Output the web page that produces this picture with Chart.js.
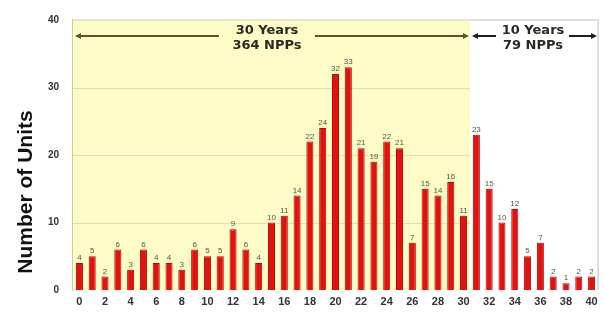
<!DOCTYPE html>
<html>
<head>
<meta charset="utf-8">
<script src="https://cdn.jsdelivr.net/npm/chart.js@4/dist/chart.umd.min.js"></script>
<style>
  html, body { margin: 0; padding: 0; background: #ffffff; }
  #wrap { width: 604px; height: 333px; position: relative; }
</style>
</head>
<body>
<div id="wrap"><canvas id="c" width="604" height="333"></canvas></div>
<script>
// Reactor age (years in operation) on the x axis
const ages = ['0','1','2','3','4','5','6','7','8','9','10','11','12','13','14','15','16','17','18','19','20',
              '21','22','23','24','25','26','27','28','29','30','31','32','33','34','35','36','37','38','39','40'];
// Number of units at each age
const units = [4, 5, 2, 6, 3, 6, 4, 4, 3, 6, 5, 5, 9, 6, 4, 10, 11, 14, 22, 24, 32,
               33, 21, 19, 22, 21, 7, 15, 14, 16, 11, 23, 15, 10, 12, 5, 7, 2, 1, 2, 2];
const yTicks = [0, 10, 20, 30, 40];
// Two age bands annotated above the bars
const bandSplit = 31;               // first age of the second band
const bandLabels = [['30 Years', '364 NPPs'], ['10 Years', '79 NPPs']];

const backdrop = {
  id: 'backdrop',
  beforeDatasetsDraw(chart) {
    const { ctx, chartArea: a, scales: { x, y } } = chart;
    const step = x.getPixelForValue(1) - x.getPixelForValue(0);
    const split = x.getPixelForValue(bandSplit) - step / 2;
    ctx.save();
    // shaded band
    ctx.fillStyle = '#fdfbc6';
    ctx.fillRect(a.left, a.top, split - a.left, a.bottom - a.top);
    // gridlines inside the shaded band
    ctx.strokeStyle = '#e3ddb0';
    ctx.lineWidth = 1.2;
    yTicks.slice(1, -1).forEach(v => {
      const py = Math.round(y.getPixelForValue(v)) + 0.5;
      ctx.beginPath(); ctx.moveTo(a.left, py); ctx.lineTo(split, py); ctx.stroke();
    });
    // top border
    ctx.strokeStyle = '#dfe0c8';
    ctx.lineWidth = 1.5;
    ctx.beginPath(); ctx.moveTo(a.left, a.top); ctx.lineTo(split, a.top); ctx.stroke();
    ctx.strokeStyle = '#d4d4d4';
    ctx.beginPath(); ctx.moveTo(split, a.top); ctx.lineTo(a.right, a.top); ctx.lineTo(a.right, a.bottom); ctx.stroke();
    ctx.restore();
  },
  afterDatasetsDraw(chart) {
    const { ctx, chartArea: a, scales: { x, y } } = chart;
    const meta = chart.getDatasetMeta(0);
    const step = x.getPixelForValue(1) - x.getPixelForValue(0);
    const split = x.getPixelForValue(bandSplit) - step / 2;
    ctx.save();
    // value labels
    ctx.font = '8px "Liberation Sans", Arial, sans-serif';
    ctx.fillStyle = '#555548';
    ctx.textAlign = 'center';
    ctx.textBaseline = 'bottom';
    meta.data.forEach((bar, i) => {
      ctx.fillText(String(units[i]), bar.x, bar.y - 1);
    });

    // band arrows with captions
    const arrow = (x0, x1, gapL, gapR, color, cx, lines) => {
      const ay = 36;
      ctx.strokeStyle = color; ctx.fillStyle = color; ctx.lineWidth = 2;
      ctx.beginPath();
      ctx.moveTo(x0 + 3, ay); ctx.lineTo(gapL, ay);
      ctx.moveTo(gapR, ay); ctx.lineTo(x1 - 3, ay);
      ctx.stroke();
      ctx.beginPath();
      ctx.moveTo(x0, ay); ctx.lineTo(x0 + 6, ay - 3); ctx.lineTo(x0 + 6, ay + 3); ctx.closePath();
      ctx.moveTo(x1, ay); ctx.lineTo(x1 - 6, ay - 3); ctx.lineTo(x1 - 6, ay + 3); ctx.closePath();
      ctx.fill();
      ctx.fillStyle = '#2a2a22';
      ctx.font = 'bold 13px "DejaVu Sans", sans-serif';
      ctx.textAlign = 'center';
      ctx.textBaseline = 'middle';
      ctx.fillText(lines[0], cx, 31);
      ctx.fillText(lines[1], cx, 46);
    };
    arrow(a.left + 2, split - 1, 219, 315, '#55552e', 267, bandLabels[0]);
    arrow(split + 2, a.right - 1, 496, 569, '#1e1e1e', 533, bandLabels[1]);

    // y axis title
    ctx.save();
    ctx.translate(32, 192);
    ctx.rotate(-Math.PI / 2);
    ctx.font = 'bold 21px "Liberation Sans", Arial, sans-serif';
    ctx.fillStyle = '#111111';
    ctx.textAlign = 'center';
    ctx.textBaseline = 'alphabetic';
    ctx.fillText('Number of Units', 0, 0);
    ctx.restore();
    ctx.restore();
  }
};

new Chart(document.getElementById('c'), {
  type: 'bar',
  data: {
    labels: ages,
    datasets: [{
      data: units,
      backgroundColor: '#e2130f',
      borderColor: '#b50a0a',
      borderWidth: 1,
      categoryPercentage: 1,
      barPercentage: 0.55
    }]
  },
  options: {
    responsive: false,
    animation: false,
    layout: { padding: { top: 15, right: 6, left: 0, bottom: 0 } },
    plugins: { legend: { display: false }, tooltip: { enabled: false } },
    scales: {
      x: {
        offset: true,
        grid: { display: false, drawTicks: false },
        border: { display: false },
        ticks: {
          autoSkip: false, maxRotation: 0, minRotation: 0, padding: 5,
          color: '#333333',
          font: { family: '"Liberation Sans", Arial, sans-serif', size: 11, weight: 'bold' },
          callback: (v, i) => (i % 2 === 0 ? ages[i] : '')
        },
        afterFit(s) { s.height = 43; }
      },
      y: {
        min: 0, max: 40,
        afterBuildTicks(s) { s.ticks = yTicks.map(v => ({ value: v })); },
        grid: { display: false, drawTicks: false },
        border: { display: true, color: '#c9cbb4', width: 1.5 },
        ticks: {
          padding: 14,
          color: '#333333',
          font: { family: '"Liberation Sans", Arial, sans-serif', size: 10, weight: 'bold' }
        },
        afterFit(s) { s.width = 73; }
      }
    }
  },
  plugins: [backdrop]
});
</script>
</body>
</html>
